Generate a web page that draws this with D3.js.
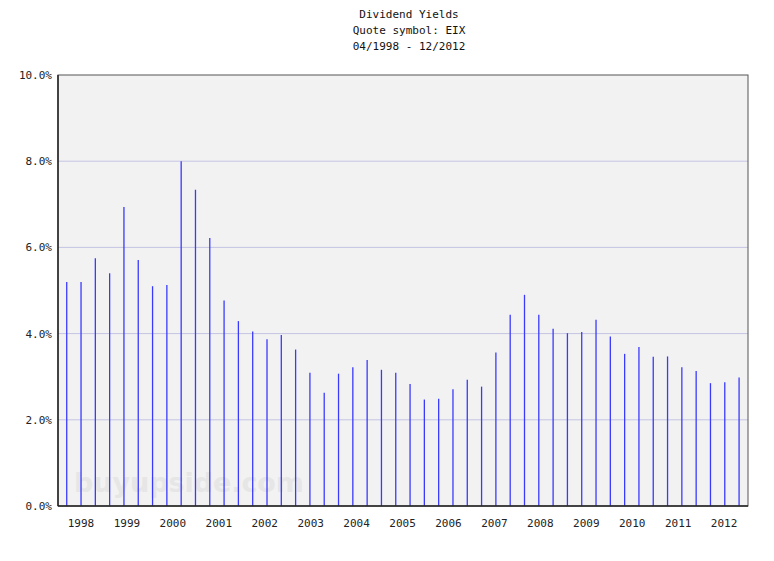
<!DOCTYPE html><html><head><meta charset="utf-8">
<script src="https://cdn.jsdelivr.net/npm/d3@7"></script>
<style>body{margin:0;background:#fff}text{font-family:"DejaVu Sans Mono",monospace}</style></head><body>
<svg id="c" width="774" height="561"></svg>
<script>
const titleLines=["Dividend Yields","Quote symbol: EIX","04/1998 - 12/2012"];
const years=[1998,1999,2000,2001,2002,2003,2004,2005,2006,2007,2008,2009,2010,2011,2012];
const yTicks=[0,2,4,6,8,10];
const startDate=1997.69, step=0.3114;
const yields=[5.2,5.2,5.75,5.4,6.94,5.71,5.1,5.13,8.0,7.34,6.22,4.77,4.29,4.05,3.87,3.97,3.63,3.09,2.63,3.07,3.22,3.39,3.16,3.09,
2.83,2.47,2.49,2.71,2.93,2.77,3.56,4.44,4.9,4.44,4.11,4.01,4.04,4.32,3.93,3.53,3.69,3.46,3.47,3.22,3.13,2.85,2.87,2.98];
const svg=d3.select("#c");
const L=58,R=748,T=75,B=506;
const x=d3.scaleLinear().domain([1997.5,2012.52]).range([L,R]);
const y=d3.scaleLinear().domain([0,10]).range([B,T]);
svg.append("rect").attr("x",L).attr("y",T).attr("width",R-L).attr("height",B-T).attr("fill","#f2f2f2");
svg.selectAll(".g").data(yTicks.filter(d=>d>0&&d<10)).join("line").attr("x1",L).attr("x2",R)
 .attr("y1",d=>y(d)).attr("y2",d=>y(d)).attr("stroke","#c4c4e4").attr("stroke-width",1);
svg.append("text").attr("x",74).attr("y",492).attr("font-weight","bold")
 .attr("font-size",27).attr("fill","#e6e6e6").attr("textLength",230).attr("style","font-family:'DejaVu Sans'").text("buyupside.com");
svg.selectAll(".b").data(yields).join("line").attr("x1",(d,i)=>x(startDate+i*step)).attr("x2",(d,i)=>x(startDate+i*step))
 .attr("y1",y(0)).attr("y2",d=>y(d)).attr("stroke","#3a3aff").attr("stroke-width",1.3);
svg.append("rect").attr("x",L).attr("y",T).attr("width",R-L).attr("height",B-T).attr("fill","none").attr("stroke","#555");
svg.append("line").attr("x1",L).attr("x2",R).attr("y1",B).attr("y2",B).attr("stroke","#222").attr("stroke-width",1.5);
svg.append("line").attr("x1",L).attr("x2",L).attr("y1",T).attr("y2",B).attr("stroke","#222").attr("stroke-width",1.5);
svg.selectAll(".yl").data(yTicks).join("text").attr("x",L-6).attr("y",d=>y(d)+4).attr("text-anchor","end")
 .attr("font-size",11).attr("fill","#222").text(d=>d.toFixed(1)+"%");
svg.selectAll(".xl").data(years).join("text").attr("x",d=>x(d)).attr("y",B+21).attr("text-anchor","middle")
 .attr("font-size",11).attr("fill","#222").text(d=>d);
svg.selectAll(".t").data(titleLines).join("text").attr("x",409).attr("y",(d,i)=>18+i*16).attr("text-anchor","middle")
 .attr("font-size",11).attr("fill","#111").text(d=>d);
</script></body></html>
